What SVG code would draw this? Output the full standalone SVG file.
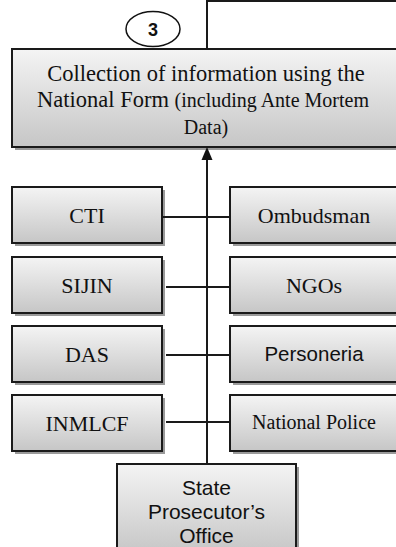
<svg xmlns="http://www.w3.org/2000/svg" width="396" height="547" viewBox="0 0 396 547">
<defs>
<linearGradient id="g" x1="0" y1="0" x2="0" y2="1">
<stop offset="0" stop-color="#f4f4f4"/>
<stop offset="1" stop-color="#c6c6c6"/>
</linearGradient>
</defs>
<style>
.sh{fill:#9a9a9a}
.bx{fill:url(#g);stroke:#1a1a1a;stroke-width:2}
.ln{stroke:#1a1a1a;stroke-width:2;fill:none}
.hd{fill:#111}
.s{font-family:"Liberation Serif","Times New Roman",serif;fill:#111;text-anchor:middle}
.a{font-family:"Liberation Sans",Arial,sans-serif;fill:#111;text-anchor:middle}
</style>
<g id="step3">
<ellipse cx="153" cy="29" rx="27" ry="17.5" fill="#fff" stroke="#111" stroke-width="1.5"/>
<text x="153" y="35.5" class="a" font-size="18" font-weight="bold">3</text>
</g>
<g id="collection">
<rect class="sh" x="15" y="52" width="388" height="98"/>
<rect class="bx" x="12" y="49" width="388" height="98"/>
<text x="206" y="81" class="s" font-size="22.5">Collection of information using the</text>
<text x="203" y="107" class="s"><tspan font-size="22.5">National Form </tspan><tspan font-size="20">(including Ante Mortem</tspan></text>
<text x="206" y="134" class="s" font-size="20">Data)</text>
</g>
<g id="cti">
<rect class="sh" x="15" y="190" width="150" height="56"/>
<rect class="bx" x="12" y="187" width="150" height="56"/>
<text x="87" y="223" class="s" font-size="22">CTI</text>
</g>
<g id="sijin">
<rect class="sh" x="15" y="260" width="150" height="56"/>
<rect class="bx" x="12" y="257" width="150" height="56"/>
<text x="87" y="293" class="s" font-size="22">SIJIN</text>
</g>
<g id="das">
<rect class="sh" x="15" y="329" width="150" height="56"/>
<rect class="bx" x="12" y="326" width="150" height="56"/>
<text x="87" y="362" class="s" font-size="22">DAS</text>
</g>
<g id="inmlcf">
<rect class="sh" x="15" y="398" width="150" height="56"/>
<rect class="bx" x="12" y="395" width="150" height="56"/>
<text x="87" y="431" class="s" font-size="22">INMLCF</text>
</g>
<g id="ombudsman">
<rect class="sh" x="233" y="190" width="170" height="56"/>
<rect class="bx" x="230" y="187" width="170" height="56"/>
<text x="314" y="223" class="s" font-size="22">Ombudsman</text>
</g>
<g id="ngos">
<rect class="sh" x="233" y="260" width="170" height="56"/>
<rect class="bx" x="230" y="257" width="170" height="56"/>
<text x="314" y="293" class="s" font-size="22">NGOs</text>
</g>
<g id="personeria">
<rect class="sh" x="233" y="329" width="170" height="56"/>
<rect class="bx" x="230" y="326" width="170" height="56"/>
<text x="314" y="361" class="a" font-size="20.5">Personeria</text>
</g>
<g id="police">
<rect class="sh" x="233" y="398" width="170" height="56"/>
<rect class="bx" x="230" y="395" width="170" height="56"/>
<text x="314" y="429" class="s" font-size="20">National Police</text>
</g>
<g id="prosecutor">
<rect class="sh" x="120" y="467" width="179" height="90"/>
<rect class="bx" x="117" y="464" width="179" height="90"/>
<text x="206.5" y="495" class="a" font-size="21">State</text>
<text x="206.5" y="519" class="a" font-size="21">Prosecutor’s</text>
<text x="206.5" y="543" class="a" font-size="21">Office</text>
</g>
<g id="connectors">
<path class="ln" d="M207,48 V1 H398"/>
<line class="ln" x1="207" y1="463" x2="207" y2="158"/>
<polygon class="hd" points="207,147 201.5,160 212.5,160"/>
<line class="ln" x1="163" y1="217" x2="229" y2="217"/>
<line class="ln" x1="166" y1="287" x2="229" y2="287"/>
<line class="ln" x1="166" y1="355" x2="229" y2="355"/>
<line class="ln" x1="166" y1="422" x2="229" y2="422"/>
</g>
</svg>
